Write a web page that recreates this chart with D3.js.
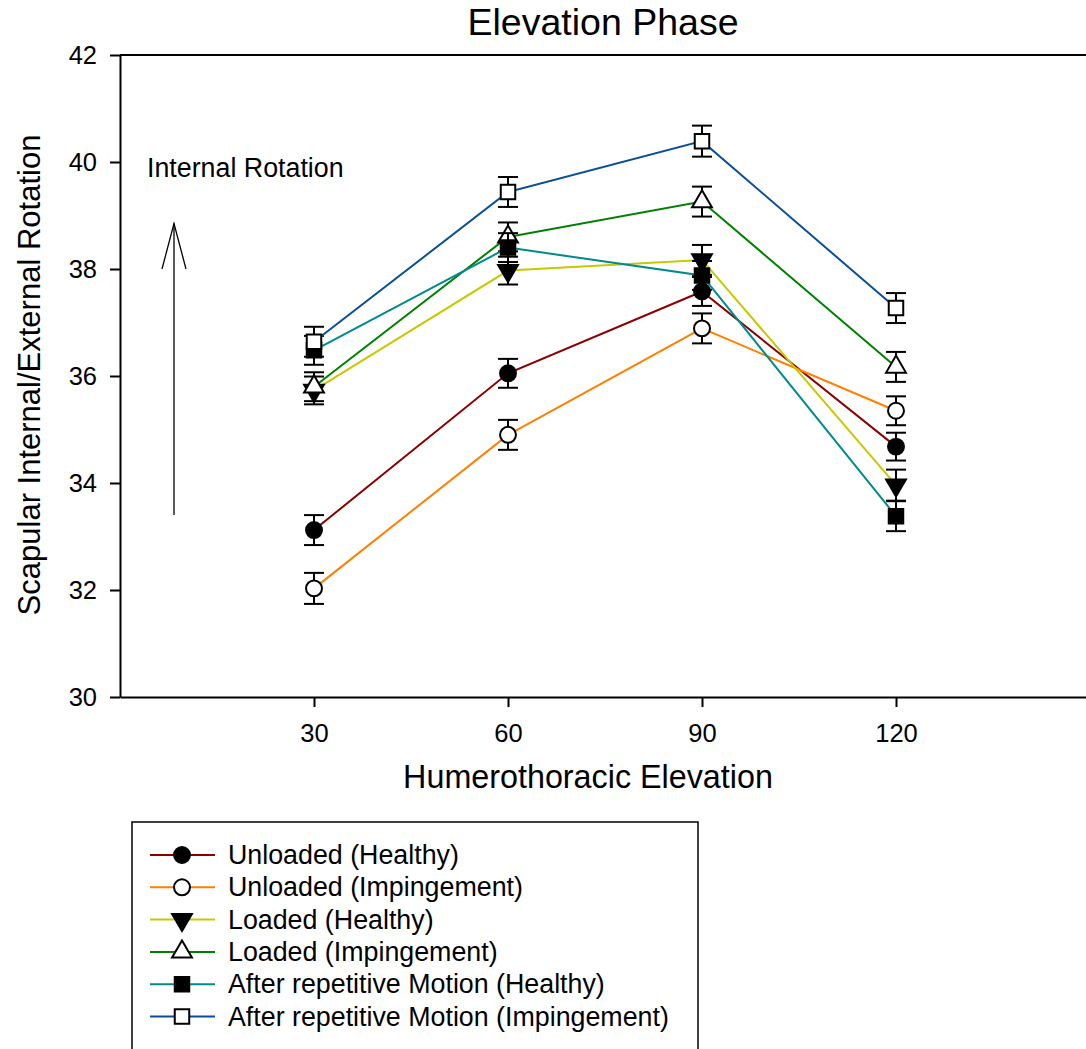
<!DOCTYPE html>
<html>
<head>
<meta charset="utf-8">
<script src="https://cdn.jsdelivr.net/npm/d3@7"></script>
<style>
  body { margin: 0; background: #fff; }
  text { font-family: "Liberation Sans", Arial, sans-serif; fill: #000; }
</style>
</head>
<body>
<script>
const w = 1086; // width
const h = 1049; // height

// data
const elevations = [30, 60, 90, 120];
const xTicks = [30, 60, 90, 120];
const yTicks = [30, 32, 34, 36, 38, 40, 42];

const seriesNames = [
    "Unloaded (Healthy)",
    "Unloaded (Impingement)",
    "Loaded (Healthy)",
    "Loaded (Impingement)",
    "After repetitive Motion (Healthy)",
    "After repetitive Motion (Impingement)"
];
const seriesColors = ["#8b0000", "#ff8000", "#c8c800", "#008000", "#008b8b", "#0a4f96"];
const seriesSymbols = ["circle", "circle", "down", "up", "square", "square"];
const seriesFilled = [true, false, true, false, true, false];

const unloadedHealthy = [33.12, 36.05, 37.58, 34.68];
const unloadedImp = [32.03, 34.90, 36.89, 35.35];
const loadedHealthy = [35.73, 37.97, 38.17, 33.96];
const loadedImp = [35.80, 38.60, 39.26, 36.17];
const afterHealthy = [36.48, 38.40, 37.88, 33.38];
const afterImp = [36.64, 39.44, 40.39, 37.27];

const unloadedHealthyErr = [0.28, 0.27, 0.27, 0.26];
const unloadedImpErr = [0.29, 0.28, 0.28, 0.27];
const loadedHealthyErr = [0.26, 0.26, 0.28, 0.29];
const loadedImpErr = [0.27, 0.27, 0.28, 0.28];
const afterHealthyErr = [0.27, 0.27, 0.27, 0.28];
const afterImpErr = [0.28, 0.28, 0.29, 0.28];

const values = [unloadedHealthy, unloadedImp, loadedHealthy, loadedImp, afterHealthy, afterImp];
const errors = [unloadedHealthyErr, unloadedImpErr, loadedHealthyErr, loadedImpErr, afterHealthyErr, afterImpErr];

let svg = d3.select("body")
    .append("svg")
    .attr("width", w)
    .attr("height", h);

// scales
let x = d3.scaleLinear().domain([0, 150]).range([120, 1090]);
let y = d3.scaleLinear().domain([30, 42]).range([697, 55]);

// symbol path for a series
function symbolPath(kind) {
    if (kind === "circle") return d3.symbol(d3.symbolCircle, 200)();
    if (kind === "square") return d3.symbol(d3.symbolSquare, 210)();
    return d3.symbol(d3.symbolTriangle, 170)();
}
function symbolTransform(kind, px, py) {
    return kind === "down" ? `translate(${px},${py}) rotate(180)` : `translate(${px},${py})`;
}

// axes
let yAxis = svg.append("g")
    .attr("transform", `translate(${x(0)},0)`)
    .call(d3.axisLeft(y).tickValues(yTicks).tickSize(10).tickSizeOuter(0).tickPadding(13));
yAxis.selectAll("text").style("font-size", "25.5px");

let xAxis = svg.append("g")
    .attr("transform", `translate(0,${y(30)})`)
    .call(d3.axisBottom(x).tickValues(xTicks).tickSize(10).tickSizeOuter(0).tickPadding(17));
xAxis.selectAll("text").style("font-size", "25.5px");

svg.selectAll(".domain, .tick line").attr("stroke", "#000").attr("stroke-width", 2);

// top frame line
svg.append("line")
    .attr("x1", x(0)).attr("x2", x(150))
    .attr("y1", y(42)).attr("y2", y(42))
    .attr("stroke", "#000").attr("stroke-width", 2);

// series
let line = d3.line()
    .x((d, i) => x(elevations[i]))
    .y((d) => y(d));

values.forEach((vals, s) => {
    let g = svg.append("g");

    g.append("path")
        .datum(vals)
        .attr("fill", "none")
        .attr("stroke", seriesColors[s])
        .attr("stroke-width", 2)
        .attr("d", line);

    // error bars
    let err = g.selectAll(".err")
        .data(vals)
        .enter()
        .append("g");
    err.append("line")
        .attr("x1", (d, i) => x(elevations[i]))
        .attr("x2", (d, i) => x(elevations[i]))
        .attr("y1", (d, i) => y(d + errors[s][i]))
        .attr("y2", (d, i) => y(d - errors[s][i]))
        .attr("stroke", "#000").attr("stroke-width", 2);
    [1, -1].forEach((sign) => {
        err.append("line")
            .attr("x1", (d, i) => x(elevations[i]) - 10)
            .attr("x2", (d, i) => x(elevations[i]) + 10)
            .attr("y1", (d, i) => y(d + sign * errors[s][i]))
            .attr("y2", (d, i) => y(d + sign * errors[s][i]))
            .attr("stroke", "#000").attr("stroke-width", 2);
    });

    // symbols
    g.selectAll(".sym")
        .data(vals)
        .enter()
        .append("path")
        .attr("d", symbolPath(seriesSymbols[s]))
        .attr("transform", (d, i) => symbolTransform(seriesSymbols[s], x(elevations[i]), y(d)))
        .attr("fill", seriesFilled[s] ? "#000" : "#fff")
        .attr("stroke", "#000")
        .attr("stroke-width", 2);
});

// title
svg.append("text")
    .attr("x", 603)
    .attr("y", 35)
    .attr("text-anchor", "middle")
    .style("font-size", "37.5px")
    .text("Elevation Phase");

// x axis label
svg.append("text")
    .attr("x", 588)
    .attr("y", 788)
    .attr("text-anchor", "middle")
    .style("font-size", "32.3px")
    .text("Humerothoracic Elevation");

// y axis label
svg.append("text")
    .attr("transform", "rotate(-90)")
    .attr("x", -375)
    .attr("y", 40)
    .attr("text-anchor", "middle")
    .style("font-size", "31px")
    .text("Scapular Internal/External Rotation");

// annotation with arrow
svg.append("text")
    .attr("x", 147)
    .attr("y", 177)
    .style("font-size", "26.8px")
    .text("Internal Rotation");

svg.append("line")
    .attr("x1", 174).attr("x2", 174)
    .attr("y1", y(33.4)).attr("y2", y(38.85))
    .attr("stroke", "#000").attr("stroke-width", 1.3);
svg.append("path")
    .attr("d", `M162,${y(38)} L174,${y(38.85)} L186,${y(38)}`)
    .attr("fill", "none")
    .attr("stroke", "#000").attr("stroke-width", 1.3);

// legend
let legend = svg.append("g");
legend.append("rect")
    .attr("x", 132).attr("y", 822)
    .attr("width", 566).attr("height", 260)
    .attr("fill", "none")
    .attr("stroke", "#000").attr("stroke-width", 1.5);

seriesNames.forEach((name, s) => {
    let cy = 855 + s * 32.3;
    legend.append("line")
        .attr("x1", 150).attr("x2", 215)
        .attr("y1", cy).attr("y2", cy)
        .attr("stroke", seriesColors[s]).attr("stroke-width", 2);
    legend.append("path")
        .attr("d", symbolPath(seriesSymbols[s]))
        .attr("transform", symbolTransform(seriesSymbols[s], 182, cy))
        .attr("fill", seriesFilled[s] ? "#000" : "#fff")
        .attr("stroke", "#000")
        .attr("stroke-width", 2);
    legend.append("text")
        .attr("x", 228)
        .attr("y", cy + 9)
        .style("font-size", "26.8px")
        .text(name);
});
</script>
</body>
</html>
